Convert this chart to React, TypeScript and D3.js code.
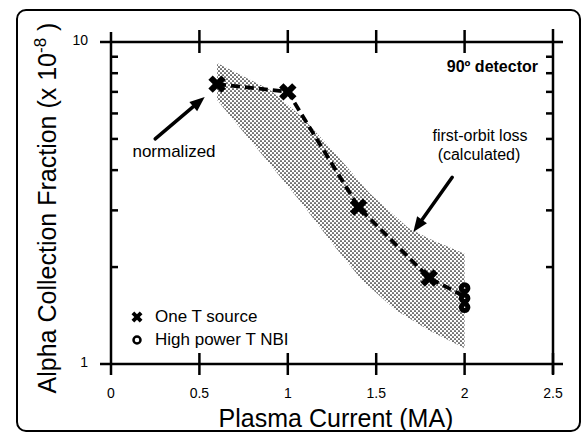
import React from "react";
import * as d3 from "d3";

// ---- data ----
const crossX = [0.6, 1.0, 1.4, 1.8];
const crossY = [7.4, 7.0, 3.07, 1.85];
const circleX = [2.0, 2.0, 2.0];
const circleY = [1.72, 1.6, 1.5];
const lineX = [0.6, 1.0, 1.4, 1.8, 2.0];
const lineY = [7.4, 7.0, 3.07, 1.85, 1.62];
const bandUpperX = [0.6, 0.9, 1.08, 1.27, 1.46, 1.68, 1.8, 2.0];
const bandUpperY = [8.6, 7.1, 5.85, 4.5, 3.4, 2.65, 2.45, 2.2];
const bandLowerX = [0.6, 0.88, 1.08, 1.27, 1.42, 1.61, 1.8, 2.0];
const bandLowerY = [6.6, 4.3, 3.15, 2.3, 1.82, 1.47, 1.27, 1.12];
const xTicks = [0, 0.5, 1, 1.5, 2, 2.5];
const xTickLabels = ["0", "0.5", "1", "1.5", "2", "2.5"];
const yMajor = [1, 10];
const yMajorLabels = ["1", "10"];
const yMinor = [2, 3, 4, 5, 6, 7, 8, 9];
const legendLabels = ["One T source", "High power T NBI"];

const W = 583;
const H = 436;
const FONT = "'Liberation Sans', Arial, Helvetica, sans-serif";

export default function App() {
  const x = d3.scaleLinear().domain([0, 2.5]).range([111, 553]);
  const y = d3.scaleLog().domain([1, 10]).range([364, 42]);
  const x0 = x(0), x1 = x(2.5), yT = y(10), yB = y(1);

  const bandPts: [number, number][] = [
    ...bandUpperX.map((v, i) => [x(v), y(bandUpperY[i])] as [number, number]),
    ...bandLowerX.map((v, i) => [x(v), y(bandLowerY[i])] as [number, number]).reverse(),
  ];
  const bandPath = d3.line()(bandPts) + "Z";
  const dashPath = d3.line<number>().x((d) => x(d)).y((_, i) => y(lineY[i]))(lineX) || "";
  const crossPath = d3.symbol().type(d3.symbolCross).size(190)() || "";
  const legendCross = d3.symbol().type(d3.symbolCross).size(75)() || "";

  const arrow = (tx: number, ty: number, hx: number, hy: number, key: string) => {
    const a = Math.atan2(hy - ty, hx - tx);
    const L = 15, Wd = 6;
    const bx = hx - L * Math.cos(a), by = hy - L * Math.sin(a);
    const p1 = [bx + Wd * Math.sin(a), by - Wd * Math.cos(a)];
    const p2 = [bx - Wd * Math.sin(a), by + Wd * Math.cos(a)];
    return (
      <g key={key}>
        <line x1={tx} y1={ty} x2={bx} y2={by} stroke="#000" strokeWidth={3.5} strokeLinecap="round" />
        <path d={`M${hx},${hy}L${p1[0]},${p1[1]}L${p2[0]},${p2[1]}Z`} fill="#000" />
      </g>
    );
  };

  return (
    <svg width={W} height={H} style={{ position: "absolute", left: 0, top: 0, background: "#fff" }} fontFamily={FONT}>
      <defs>
        <pattern id="dots" width={4} height={4} patternUnits="userSpaceOnUse">
          <circle cx={1} cy={1} r={0.85} fill="#000" />
          <circle cx={3} cy={3} r={0.85} fill="#000" />
        </pattern>
      </defs>
      <rect x={0} y={0} width={W} height={H} fill="#fff" />
      {/* frame */}
      <rect x={17} y={10} width={563} height={421} rx={9} ry={9} fill="none" stroke="#000" strokeWidth={2} />

      {/* band */}
      <path d={bandPath} fill="url(#dots)" stroke="none" />

      {/* axes */}
      <g stroke="#000" strokeWidth={2.5} strokeLinecap="butt">
        <line x1={x0 - 11} x2={x1 + 10} y1={yT} y2={yT} />
        <line x1={x0 - 11} x2={x1 + 10} y1={yB} y2={yB} />
        <line x1={x0} x2={x0} y1={yT - 10} y2={yB + 11} />
        <line x1={x1} x2={x1} y1={yT - 13} y2={yB + 10} />
        {xTicks.filter((t) => t > 0 && t < 2.5).map((t) => (
          <line key={"tt" + t} x1={x(t)} x2={x(t)} y1={yT - 12} y2={yT + 11} />
        ))}
        {xTicks.filter((t) => t > 0).map((t) => (
          <line key={"bt" + t} x1={x(t)} x2={x(t)} y1={yB - 11} y2={yB + 11} />
        ))}
        {yMinor.map((v) => (
          <line key={"lm" + v} x1={x0} x2={x0 + 7} y1={y(v)} y2={y(v)} />
        ))}
        {yMinor.map((v) => (
          <line key={"rm" + v} x1={x1 - 7} x2={x1} y1={y(v)} y2={y(v)} />
        ))}
      </g>

      {/* tick labels */}
      <g fontSize={14} fill="#000">
        {xTicks.map((t, i) => (
          <text key={"xl" + t} x={x(t)} y={yB + 34} textAnchor="middle">{xTickLabels[i]}</text>
        ))}
        {yMajor.map((v, i) => (
          <text key={"yl" + v} x={x0 - 23} y={y(v) + 3} textAnchor="end">{yMajorLabels[i]}</text>
        ))}
      </g>

      {/* axis titles */}
      <text x={336} y={427} textAnchor="middle" fontSize={25} fill="#000">Plasma Current (MA)</text>
      <text transform="translate(56,208) rotate(-90)" textAnchor="middle" fontSize={25} fill="#000">
        Alpha Collection Fraction (x 10<tspan dy={-10} fontSize={17}>-8</tspan><tspan dy={10}> )</tspan>
      </text>

      {/* dashed line */}
      <path d={dashPath} fill="none" stroke="#000" strokeWidth={3.8} strokeDasharray="9,5" />

      {/* crosses */}
      {crossX.map((v, i) => (
        <path key={"c" + i} d={crossPath} transform={`translate(${x(v)},${y(crossY[i])}) rotate(45)`} fill="#000" />
      ))}
      {/* circles */}
      {circleX.map((v, i) => (
        <circle key={"o" + i} cx={x(v)} cy={y(circleY[i])} r={3.3} fill="none" stroke="#000" strokeWidth={5} />
      ))}

      {/* annotations */}
      {arrow(x(0.25), y(5.0), x(0.53), y(6.75), "a1")}
      {arrow(x(1.93), y(3.8), x(1.71), y(2.57), "a2")}
      <text x={174} y={157} textAnchor="middle" fontSize={17} fill="#000">normalized</text>
      <text x={480} y={141} textAnchor="middle" fontSize={16} fill="#000">first-orbit loss</text>
      <text x={479} y={160} textAnchor="middle" fontSize={16} fill="#000">(calculated)</text>
      <text x={538} y={72} textAnchor="end" fontSize={16} fontWeight="bold" fill="#000">90º detector</text>

      {/* legend */}
      <path d={legendCross} transform="translate(137,317) rotate(45)" fill="#000" />
      <circle cx={137} cy={340} r={3.5} fill="none" stroke="#000" strokeWidth={2.5} />
      <text x={155} y={322} fontSize={17} fill="#000">{legendLabels[0]}</text>
      <text x={155} y={345} fontSize={17} fill="#000">{legendLabels[1]}</text>
    </svg>
  );
}
